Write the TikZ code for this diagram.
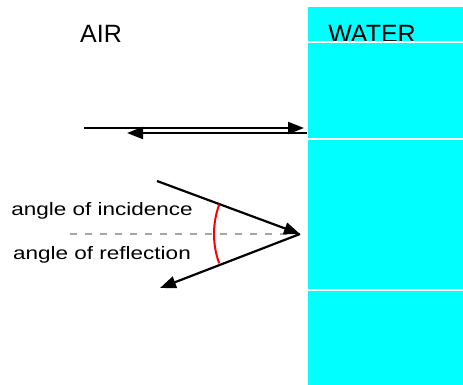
\documentclass[tikz,border=0pt]{standalone}
\usepackage{fontspec}
\setmainfont{Liberation Sans}
\usetikzlibrary{arrows.meta}
\definecolor{aqua}{RGB}{0,255,255}

\begin{document}
\begin{tikzpicture}[x=1pt, y=-1pt,
  ray/.style={line width=2.2pt, -{Triangle[length=16pt,width=12pt]}},
  big/.style={font=\fontsize{25}{27}\selectfont, inner sep=0pt, anchor=base},
  lbl/.style={font=\fontsize{18}{20}\selectfont, inner sep=0pt, anchor=base},
  seam/.style={white, line width=1.6pt}
]
\useasboundingbox (0,0) rectangle (463,385);
% water block
\fill[aqua] (308,7) rectangle (463,385);
\node[big] (air) at (101,43) {AIR};
\node[big] (water) at (372,43) {WATER};
\draw[seam] (308,42) -- (463,42);
\draw[seam] (308,139) -- (463,139);
\draw[seam] (308,290) -- (463,290);
% straight in, straight back
\coordinate (fwdA) at (84,128);
\coordinate (fwdB) at (304,128);
\coordinate (backA) at (307,133);
\coordinate (backB) at (127,133);
\draw[ray] (fwdA) -- (fwdB);
\draw[ray] (backA) -- (backB);
% oblique ray
\coordinate (inA) at (157,181);
\coordinate (hit) at (300,234);
\coordinate (outB) at (160,288);
\draw[gray!70, line width=2.5pt, dash pattern=on 7pt off 8pt] (70,234) -- (hit);
\draw[ray] (inA) -- (hit);
\draw[ray] (hit) -- (outB);
\draw[red, line width=2pt] (hit) ++(160:86) arc (160:200:86);
\node[lbl] (inc) at (102,215) {\scalebox{1.25}[1]{angle of incidence}};
\node[lbl] (refl) at (102,259) {\scalebox{1.25}[1]{angle of reflection}};
\end{tikzpicture}
\end{document}
